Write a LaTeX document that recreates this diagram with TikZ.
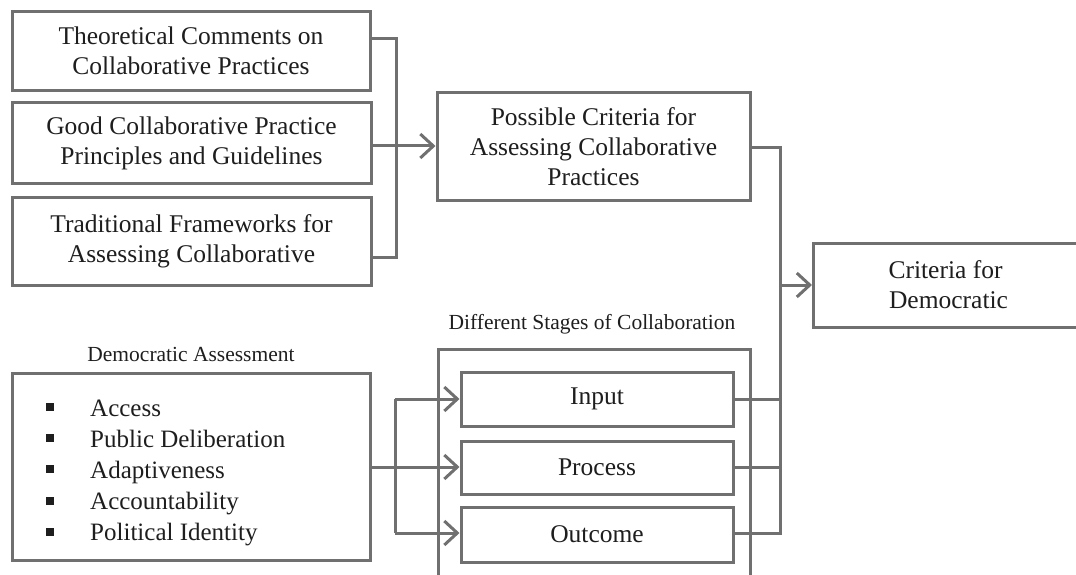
\documentclass[tikz,border=0pt]{standalone}
\usepackage{fontspec}
\setmainfont{Liberation Serif}
\usetikzlibrary{arrows.meta}
\definecolor{ln}{RGB}{112,112,112}
\definecolor{tx}{RGB}{30,30,30}
\begin{document}
\begin{tikzpicture}[x=1pt,y=-1pt,
  box/.style={draw=ln,line width=3pt,fill=white,rectangle,align=center,text=tx,font=\fontsize{25.5}{30}\selectfont,inner sep=0pt},
  conn/.style={draw=ln,line width=3pt},
  arr/.style={conn,-{Straight Barb[length=13pt,width=24pt,line width=3pt]}},
  lbl/.style={text=tx,font=\fontsize{21.5}{24}\selectfont,inner sep=0pt}]
\useasboundingbox (0,0) rectangle (1076,575);
\node[box,minimum width=358pt,minimum height=79pt] (T1) at (191,51) {Theoretical Comments on\\Collaborative Practices};
\node[box,minimum width=359pt,minimum height=80pt] (T2) at (191.5,143) {Good Collaborative Practice\\Principles and Guidelines};
\node[box,minimum width=359pt,minimum height=88pt] (T3) at (191.5,241) {Traditional Frameworks for\\Assessing Collaborative};
\node[box,minimum width=313pt,minimum height=107pt] (P) at (593.5,146.5) {Possible Criteria for\\Assessing Collaborative\\Practices};
\node[box,minimum width=270pt,minimum height=84pt,anchor=west] (C) at (812,285) {\hspace*{-6pt}Criteria for\\Democratic};
\node[lbl] (DAl) at (191,354) {Democratic Assessment};
\node[box,minimum width=358pt,minimum height=187pt] (DA) at (191,466.5) {};
\node[anchor=north west,inner sep=0pt,text=tx,font=\fontsize{25}{31.2}\selectfont,align=left] (L) at (46,394) {%
\begin{tabular}{@{}l@{\hspace{36pt}}l@{}}
\rule[5pt]{8pt}{8pt} & Access\\
\rule[5pt]{8pt}{8pt} & Public Deliberation\\
\rule[5pt]{8pt}{8pt} & Adaptiveness\\
\rule[5pt]{8pt}{8pt} & Accountability\\
\rule[5pt]{8pt}{8pt} & Political Identity
\end{tabular}};
\node[lbl] (Sl) at (592,324) {Different Stages of Collaboration};
\draw[conn] (438,585) -- (438,349) -- (750,349) -- (750,585);
\node[box,minimum width=272pt,minimum height=54pt] (I) at (597,399) {Input};
\node[box,minimum width=272pt,minimum height=53pt] (Pr) at (597,467.5) {Process};
\node[box,minimum width=272pt,minimum height=55pt] (O) at (597,534.5) {Outcome};
% top bracket
\coordinate (b1) at (396,39);
\coordinate (b3) at (396,257);
\coordinate (b2) at (396,146);
\draw[conn] (T1.east |- b1) -- (b1) -- (b3) -- (T3.east |- b3);
\draw[conn] (T2.east |- b2) -- (b2);
\draw[arr] (b2) -- (P.west |- b2);
% right bus
\coordinate (r1) at (780,148);
\coordinate (r2) at (780,285);
\coordinate (r3) at (780,533);
\draw[conn] (P.east |- r1) -- (r1) -- (r3) -- (O.east |- r3);
\draw[conn] (I.east) -- (I.east -| r1);
\draw[conn] (Pr.east) -- (Pr.east -| r1);
\draw[arr] (r2) -- (C.west);
% left bus
\coordinate (l1) at (395,399);
\coordinate (l2) at (395,467);
\coordinate (l3) at (395,533);
\draw[conn] (DA.east |- l2) -- (l2);
\draw[conn] (l1) -- (l3);
\draw[arr] (l1) -- (I.west);
\draw[arr] (l2) -- (Pr.west |- l2);
\draw[arr] (l3) -- (O.west |- l3);
\end{tikzpicture}
\end{document}
